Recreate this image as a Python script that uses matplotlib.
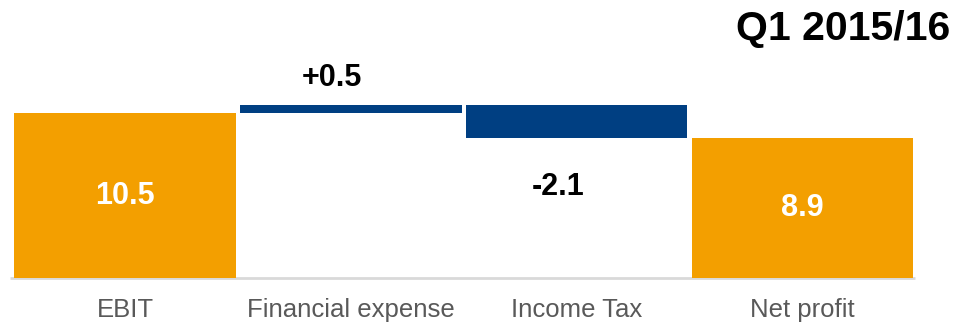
import matplotlib.pyplot as plt

plt.rcParams['font.family'] = ['Liberation Sans', 'DejaVu Sans']

categories = ["EBIT", "Financial expense", "Income Tax", "Net profit"]
values = [10.5, 0.5, -2.1, 8.9]
is_total = [True, False, False, True]
value_labels = ["10.5", "+0.5", "-2.1", "8.9"]
title = "Q1 2015/16"

ORANGE = "#F39F00"
BLUE = "#003F82"

# waterfall bottoms / heights
bottoms = []
heights = []
running = 0
for v, tot in zip(values, is_total):
    if tot:
        bottoms.append(0)
        heights.append(v)
        running = v
    else:
        bottoms.append(min(running, running + v))
        heights.append(abs(v))
        running += v

fig = plt.figure(figsize=(9.55, 3.24), dpi=100)
ax = fig.add_axes([0, 0, 1, 1])
px = 225.8  # px per category
ppu = 15.7  # px per value unit
ax.set_xlim(-125 / px, (955 - 125) / px)
ax.set_ylim(-(324 - 278) / ppu, 278 / ppu)
ax.axis("off")

x = range(len(categories))
colors = [ORANGE if t else BLUE for t in is_total]
ax.bar(x, heights, bottom=bottoms, width=0.982, color=colors, linewidth=0)
ax.hlines(0, -0.51, len(categories) - 0.5, color="#D9D9D9", linewidth=2, zorder=0)

for i in x:
    if is_total[i]:
        ax.text(i, bottoms[i] + heights[i] / 2, value_labels[i], ha="center", va="center",
                color="white", fontsize=22, fontweight="bold")
    elif values[i] >= 0:
        ax.annotate(value_labels[i], (i, bottoms[i] + heights[i]), xytext=(-13.5, 9),
                    textcoords="offset points", ha="center", va="bottom",
                    fontsize=22, fontweight="bold", color="black")
    else:
        ax.annotate(value_labels[i], (i, bottoms[i]), xytext=(-13.5, -24),
                    textcoords="offset points", ha="center", va="top",
                    fontsize=22, fontweight="bold", color="black")
    ax.annotate(categories[i], (i, 0), xytext=(0, -23), textcoords="offset points",
                ha="center", va="center", fontsize=18.5, color="#595959")

fig.text(0.995, 1 - 29 / 324, title, ha="right", va="center",
         fontsize=29.5, fontweight="bold", color="black")

fig.savefig("out.png", dpi=100)
